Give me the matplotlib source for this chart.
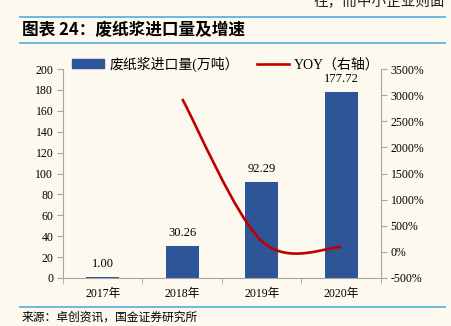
import matplotlib
matplotlib.use("Agg")
import matplotlib.pyplot as plt
import numpy as np
from matplotlib.path import Path
from matplotlib.patches import PathPatch
from matplotlib.lines import Line2D
from matplotlib.ticker import FuncFormatter, FixedLocator

# data
years = ["2017年", "2018年", "2019年", "2020年"]
imports = [1.00, 30.26, 92.29, 177.72]      # 万吨
yoy = [None, 2926.0, 205.0, 92.6]           # %

BG = "#FDF9EF"
BAR = "#2E5597"
RED = "#C00000"
RULE = "#5BB4E0"
GRID = "#A6A6A6"
serif = ["Liberation Serif", "Noto Sans CJK SC"]
cjk = ["Noto Sans CJK SC", "DejaVu Sans"]

fig = plt.figure(figsize=(4.52, 3.26), dpi=100, facecolor=BG)
ax = fig.add_axes([63 / 452, 1 - 278 / 326, 318 / 452, 209 / 326])
ax.set_facecolor(BG)

x = np.arange(len(years))
bars = ax.bar(x, imports, width=0.42, color=BAR, zorder=2)
for xi, v in zip(x, imports):
    ax.annotate(f"{v:.2f}", (xi, v), xytext=(0, 5), textcoords="offset points",
                ha="center", va="bottom", fontsize=9, family=serif)

ax.set_xlim(-0.5, len(years) - 0.5)
ax.set_ylim(0, 200)
ax.set_yticks(np.arange(0, 201, 20))
ax.set_xticks(x)
ax.set_xticklabels(years, family=serif, fontsize=8.5)
ax.xaxis.set_minor_locator(FixedLocator(np.arange(-0.5, len(years), 1.0)))
ax.tick_params(axis="x", which="major", length=0, pad=7)
ax.tick_params(axis="x", which="minor", length=4, color=GRID, direction="out")
ax.tick_params(axis="y", length=4, color=GRID, labelsize=8.5, pad=3)
for lab in ax.get_yticklabels():
    lab.set_family(serif)
for s in ["top", "right"]:
    ax.spines[s].set_visible(False)
for s in ["left", "bottom"]:
    ax.spines[s].set_color(GRID)
    ax.spines[s].set_linewidth(0.8)

ax2 = ax.twinx()
ax2.set_ylim(-500, 3500)
ax2.set_yticks(np.arange(-500, 3501, 500))
ax2.yaxis.set_major_formatter(FuncFormatter(lambda v, p: f"{v:.0f}%"))
ax2.tick_params(axis="y", length=4, color=GRID, labelsize=8.5, pad=3)
for lab in ax2.get_yticklabels():
    lab.set_family(serif)
for s in ["top", "left", "bottom"]:
    ax2.spines[s].set_visible(False)
ax2.spines["right"].set_color(GRID)
ax2.spines["right"].set_linewidth(0.8)

# smoothed YOY line (cubic bezier through the points, like Excel smoothing)
px = [xi for xi, v in zip(x, yoy) if v is not None]
py = [v for v in yoy if v is not None]
pts = np.column_stack([px, py]).astype(float)
verts = [tuple(pts[0])]
codes = [Path.MOVETO]
n = len(pts)
for i in range(n - 1):
    p0 = pts[max(i - 1, 0)]
    p1 = pts[i]
    p2 = pts[i + 1]
    p3 = pts[min(i + 2, n - 1)]
    c1 = p1 + (p2 - p0) / 6
    c2 = p2 - (p3 - p1) / 6
    verts += [tuple(c1), tuple(c2), tuple(p2)]
    codes += [Path.CURVE4] * 3
ax2.add_patch(PathPatch(Path(verts, codes), fill=False, edgecolor=RED,
                        linewidth=1.9, capstyle="butt", zorder=3))

# legend
h1 = plt.Rectangle((0, 0), 1, 1, color=BAR)
h2 = Line2D([], [], color=RED, linewidth=1.9)
fig.legend([h1, h2], ["废纸浆进口量(万吨）", "YOY（右轴）"],
           loc="center left", bbox_to_anchor=(66 / 452, 1 - 64 / 326),
           ncol=2, frameon=False, prop={"family": serif, "size": 10},
           handlelength=2.3, handleheight=0.55, columnspacing=1.3,
           handletextpad=0.4, borderaxespad=0)

# title block and rules
for yy in [17, 43, 306.5]:
    fig.add_artist(Line2D([20 / 452, 445 / 452], [1 - yy / 326] * 2,
                          color=RULE, linewidth=1.3))
fig.text(22 / 452, 1 - 30 / 326, "图表 24：废纸浆进口量及增速", family=cjk,
         fontsize=12, fontweight="bold", style="italic", va="center", ha="left")
fig.text(445 / 452, 1 - 2 / 326, "往，而中小企业则面", family=cjk,
         fontsize=10.5, va="center", ha="right", color="#222222")
fig.text(22 / 452, 1 - 318 / 326, "来源：卓创资讯，国金证券研究所", family=serif,
         fontsize=8.5, va="center", ha="left")

fig.savefig("out.png", dpi=100, facecolor=BG)
